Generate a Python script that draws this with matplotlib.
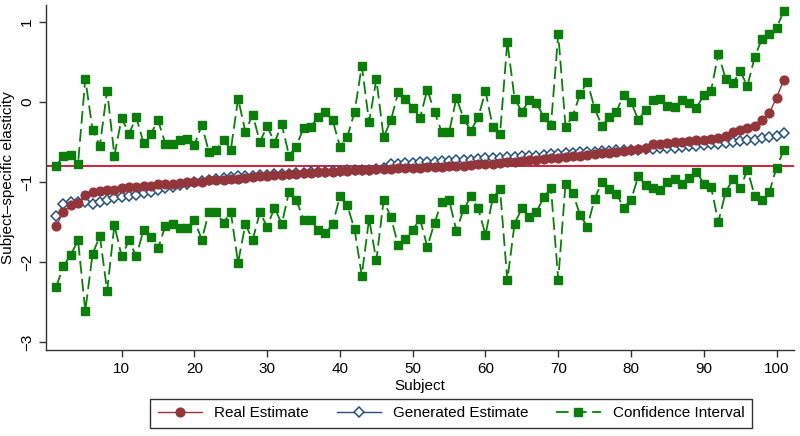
import matplotlib
matplotlib.use("Agg")
import matplotlib.pyplot as plt

plt.rcParams['font.family'] = ['Liberation Sans', 'DejaVu Sans']

subjects = list(range(1, 102))

real_est = [-1.55, -1.37, -1.29, -1.26, -1.16, -1.12, -1.11, -1.105, -1.10, -1.07,
            -1.065, -1.06, -1.05, -1.045, -1.03, -1.025, -1.02, -1.01, -1.005, -1.00,
            -0.995, -0.98, -0.975, -0.97, -0.965, -0.96, -0.95, -0.94, -0.93, -0.92,
            -0.915, -0.91, -0.905, -0.90, -0.89, -0.885, -0.88, -0.875, -0.87, -0.865,
            -0.86, -0.855, -0.85, -0.845, -0.84, -0.84, -0.835, -0.83, -0.825, -0.82,
            -0.82, -0.815, -0.81, -0.81, -0.80, -0.80, -0.795, -0.79, -0.78, -0.775,
            -0.77, -0.76, -0.755, -0.75, -0.74, -0.73, -0.72, -0.71, -0.70, -0.695,
            -0.69, -0.68, -0.675, -0.66, -0.65, -0.64, -0.635, -0.625, -0.61, -0.60,
            -0.585, -0.57, -0.53, -0.52, -0.51, -0.50, -0.495, -0.49, -0.48, -0.475,
            -0.465, -0.455, -0.42, -0.37, -0.355, -0.33, -0.30, -0.225, -0.14, 0.05,
            0.275]

gen_est = [-1.43, -1.28, -1.25, -1.245, -1.255, -1.27, -1.245, -1.22, -1.20, -1.19,
           -1.18, -1.16, -1.14, -1.12, -1.10, -1.08, -1.06, -1.04, -1.02, -1.00,
           -0.99, -0.975, -0.96, -0.945, -0.935, -0.93, -0.925, -0.92, -0.915, -0.91,
           -0.905, -0.90, -0.895, -0.89, -0.885, -0.88, -0.875, -0.87, -0.865, -0.86,
           -0.855, -0.85, -0.845, -0.845, -0.835, -0.82, -0.775, -0.77, -0.765, -0.76,
           -0.755, -0.75, -0.745, -0.74, -0.735, -0.73, -0.725, -0.72, -0.71, -0.705,
           -0.70, -0.695, -0.69, -0.685, -0.68, -0.675, -0.67, -0.66, -0.65, -0.645,
           -0.64, -0.635, -0.63, -0.625, -0.62, -0.615, -0.61, -0.605, -0.60, -0.60,
           -0.595, -0.59, -0.585, -0.58, -0.575, -0.57, -0.565, -0.555, -0.545, -0.54,
           -0.53, -0.52, -0.51, -0.50, -0.49, -0.48, -0.47, -0.455, -0.44, -0.42,
           -0.39]

ci_upper = [-0.80, -0.67, -0.66, -0.775, 0.29, -0.35, -0.55, 0.14, -0.67, -0.20,
            -0.40, -0.19, -0.51, -0.40, -0.23, -0.52, -0.52, -0.47, -0.46, -0.54,
            -0.29, -0.625, -0.60, -0.47, -0.60, 0.04, -0.37, -0.16, -0.50, -0.30,
            -0.51, -0.28, -0.67, -0.56, -0.32, -0.31, -0.19, -0.13, -0.23, -0.56,
            -0.44, -0.13, 0.45, -0.25, 0.28, -0.44, -0.23, 0.12, 0.04, -0.07,
            -0.20, 0.15, -0.125, -0.38, -0.38, 0.05, -0.21, -0.36, -0.19, 0.13,
            -0.31, -0.40, 0.75, 0.04, -0.12, 0.02, -0.01, -0.19, -0.29, 0.85,
            -0.31, -0.175, 0.10, 0.25, -0.08, -0.30, -0.19, -0.12, 0.09, 0.00,
            -0.225, -0.10, 0.02, 0.04, -0.05, -0.06, 0.025, -0.01, -0.07, 0.08,
            0.14, 0.60, 0.29, 0.23, 0.38, 0.20, 0.56, 0.79, 0.85, 0.92,
            1.14]

ci_lower = [-2.31, -2.05, -1.91, -1.73, -2.61, -1.90, -1.675, -2.36, -1.54, -1.93,
            -1.73, -1.93, -1.60, -1.69, -1.83, -1.55, -1.52, -1.575, -1.57, -1.475,
            -1.72, -1.375, -1.38, -1.51, -1.375, -2.01, -1.525, -1.725, -1.38, -1.56,
            -1.32, -1.525, -1.125, -1.225, -1.47, -1.47, -1.60, -1.64, -1.53, -1.18,
            -1.29, -1.59, -2.17, -1.46, -1.98, -1.23, -1.44, -1.79, -1.71, -1.60,
            -1.46, -1.81, -1.51, -1.245, -1.225, -1.61, -1.34, -1.18, -1.33, -1.66,
            -1.20, -1.09, -2.23, -1.52, -1.33, -1.44, -1.375, -1.19, -1.08, -2.22,
            -1.02, -1.14, -1.41, -1.56, -1.21, -1.00, -1.09, -1.15, -1.32, -1.225,
            -0.93, -1.04, -1.07, -1.10, -1.00, -0.96, -1.02, -0.95, -0.87, -1.02,
            -1.06, -1.50, -1.13, -0.96, -1.08, -0.85, -1.17, -1.23, -1.13, -0.82,
            -0.60]

ref_value = -0.8

red = '#93363c'
navy = '#24507e'
green = '#0a7d0a'

fig = plt.figure(figsize=(8, 4.36), dpi=100)
ax = fig.add_axes([0.0575, 0.197, 0.935, 0.7915])

ax.axhline(ref_value, color='#c8102e', lw=1.3, zorder=1)
ax.plot(subjects, real_est, color=red, lw=1.0, marker='o', ms=6.3,
        mfc=red, mec=red, label='Real Estimate', zorder=4)
ax.plot(subjects, gen_est, color=navy, lw=1.0, marker='D', ms=5.3,
        mfc='white', mec=navy, mew=1.1, label='Generated Estimate', zorder=3)
ax.plot(subjects, ci_upper, color=green, lw=1.3, ls=(0, (7, 3)), marker='s', ms=5.5,
        mfc=green, mec=green, label='Confidence Interval', zorder=2)
ax.plot(subjects, ci_lower, color=green, lw=1.3, ls=(0, (7, 3)), marker='s', ms=5.5,
        mfc=green, mec=green, label='_nolegend_', zorder=2)

ax.set_xlim(-0.4, 102.4)
ax.set_ylim(-3.1, 1.21)
ax.set_xticks(range(10, 101, 10))
ax.set_yticks([-3, -2, -1, 0, 1])
ax.set_yticklabels(['−3', '−2', '−1', '0', '1'], rotation=90, va='center')

for s in ['top', 'right']:
    ax.spines[s].set_visible(False)
for s in ['left', 'bottom']:
    ax.spines[s].set_color('#333333')
    ax.spines[s].set_linewidth(1.0)
ax.tick_params(direction='out', length=5, width=1.0, colors='#333333',
               labelsize=11, labelcolor='black')

ax.set_xlabel('Subject', fontsize=11, labelpad=2)
ax.set_ylabel('Subject–specific elasticity', fontsize=11, labelpad=4)

leg = fig.legend(loc='center', bbox_to_anchor=(0.564, 0.052), ncol=3,
                 fontsize=11, frameon=True, fancybox=False, edgecolor='black',
                 handlelength=2.9, columnspacing=1.8, borderpad=0.5)
leg.get_frame().set_linewidth(1.0)

fig.savefig('out.png', dpi=100)
